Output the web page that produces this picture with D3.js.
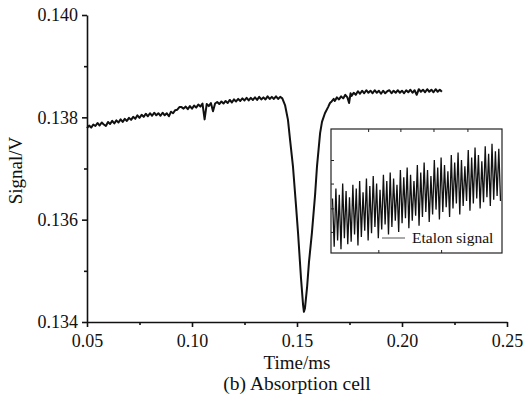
<!DOCTYPE html>
<html>
<head>
<meta charset="utf-8">
<script src="https://cdn.jsdelivr.net/npm/d3@7"></script>
<style>
  body { margin: 0; background: #fff; }
  svg { display: block; }
</style>
</head>
<body>
<div id="wrapper"></div>
<script>
// absorption cell signal, [time in ms, signal in V]
const mainCurve = [
  [0.050, 0.13779], [0.051, 0.13784], [0.052, 0.13780], [0.053, 0.13786], [0.054, 0.13783],
  [0.055, 0.13789], [0.056, 0.13784], [0.057, 0.13790], [0.058, 0.13786], [0.059, 0.13783],
  [0.060, 0.13791], [0.061, 0.13787], [0.062, 0.13793], [0.063, 0.13788], [0.064, 0.13794],
  [0.065, 0.13790], [0.066, 0.13796], [0.067, 0.13791], [0.068, 0.13797], [0.069, 0.13793],
  [0.070, 0.13799], [0.071, 0.13795], [0.072, 0.13801], [0.073, 0.13797], [0.074, 0.13804],
  [0.075, 0.13799], [0.076, 0.13805], [0.077, 0.13801], [0.078, 0.13807], [0.079, 0.13802],
  [0.080, 0.13808], [0.081, 0.13803], [0.082, 0.13809], [0.083, 0.13804], [0.084, 0.13808],
  [0.085, 0.13803], [0.086, 0.13809], [0.087, 0.13804], [0.088, 0.13808], [0.089, 0.13802],
  [0.090, 0.13811], [0.091, 0.13808], [0.092, 0.13814], [0.093, 0.13815], [0.094, 0.13820],
  [0.095, 0.13820], [0.096, 0.13817], [0.097, 0.13821], [0.098, 0.13816], [0.099, 0.13822],
  [0.100, 0.13817], [0.101, 0.13823], [0.102, 0.13819], [0.103, 0.13825], [0.104, 0.13821],
  [0.105, 0.13827], [0.106, 0.13796], [0.107, 0.13826], [0.108, 0.13822], [0.109, 0.13828],
  [0.110, 0.13812], [0.111, 0.13827], [0.112, 0.13830], [0.113, 0.13826], [0.114, 0.13831],
  [0.115, 0.13827], [0.116, 0.13832], [0.117, 0.13828], [0.118, 0.13834], [0.119, 0.13829],
  [0.120, 0.13835], [0.121, 0.13831], [0.122, 0.13836], [0.123, 0.13832], [0.124, 0.13837],
  [0.125, 0.13833], [0.126, 0.13838], [0.127, 0.13833], [0.128, 0.13838], [0.129, 0.13834],
  [0.130, 0.13839], [0.131, 0.13834], [0.132, 0.13840], [0.133, 0.13835], [0.134, 0.13839],
  [0.135, 0.13835], [0.136, 0.13841], [0.137, 0.13836], [0.138, 0.13840], [0.139, 0.13836],
  [0.140, 0.13841], [0.141, 0.13836], [0.142, 0.13840], [0.143, 0.13837],
  // the absorption dip
  [0.1443, 0.13824], [0.1457, 0.13795], [0.1467, 0.13756], [0.1481, 0.13703], [0.1495, 0.13629],
  [0.1505, 0.13574], [0.1519, 0.13486], [0.1529, 0.13433], [0.1533, 0.13420], [0.1538, 0.13427],
  [0.1548, 0.13468], [0.1557, 0.13517], [0.1571, 0.13574], [0.1586, 0.13648], [0.1595, 0.13703],
  [0.1610, 0.13769], [0.1619, 0.13791], [0.1633, 0.13808], [0.1648, 0.13820], [0.1657, 0.13828],
  // recovery
  [0.1665, 0.13831], [0.1675, 0.13836], [0.168, 0.13832], [0.169, 0.13839], [0.170, 0.13835],
  [0.171, 0.13841], [0.172, 0.13837], [0.173, 0.13844], [0.174, 0.13839], [0.1748, 0.13828],
  [0.1755, 0.13847], [0.176, 0.13842], [0.177, 0.13848], [0.178, 0.13844], [0.179, 0.13851],
  [0.180, 0.13846], [0.181, 0.13852], [0.182, 0.13847], [0.183, 0.13853], [0.184, 0.13848],
  [0.185, 0.13852], [0.186, 0.13847], [0.187, 0.13853], [0.188, 0.13848], [0.189, 0.13852],
  [0.190, 0.13846], [0.191, 0.13852], [0.192, 0.13847], [0.193, 0.13851], [0.194, 0.13853],
  [0.195, 0.13847], [0.196, 0.13852], [0.197, 0.13848], [0.198, 0.13853], [0.199, 0.13848],
  [0.200, 0.13852], [0.201, 0.13847], [0.202, 0.13853], [0.203, 0.13849], [0.204, 0.13854],
  [0.205, 0.13848], [0.206, 0.13853], [0.207, 0.13844], [0.208, 0.13855], [0.209, 0.13850],
  [0.210, 0.13854], [0.211, 0.13849], [0.212, 0.13855], [0.213, 0.13850], [0.214, 0.13854],
  [0.215, 0.13849], [0.216, 0.13855], [0.217, 0.13850], [0.218, 0.13854], [0.219, 0.13850]
];

// etalon signal in the inset, alternating peak / trough (arbitrary units 0-100)
const etalonSignal = [
  44, 5, 52, 10, 47, 3, 56, 12, 50, 7, 45, 9, 55, 15, 52, 6, 58, 13, 49, 18,
  60, 10, 54, 16, 62, 21, 56, 12, 51, 19, 63, 23, 58, 15, 65, 21, 60, 26, 55, 17,
  67, 24, 61, 28, 69, 20, 63, 26, 58, 30, 71, 22, 65, 29, 73, 33, 67, 25, 62, 31,
  75, 35, 69, 27, 77, 33, 71, 37, 66, 29, 79, 36, 73, 40, 81, 31, 75, 38, 70, 42,
  83, 34, 77, 40, 85, 44, 79, 36, 74, 41, 86, 45, 80, 38, 88, 43, 82, 46, 84, 42
];

const xMajorTicks = [0.05, 0.10, 0.15, 0.20, 0.25];
const xMinorTicks = [0.075, 0.125, 0.175, 0.225];
const yMajorTicks = [0.134, 0.136, 0.138, 0.140];
const yMinorTicks = [0.135, 0.137, 0.139];
const insetLeftTicks = [17, 36, 56, 75];
const insetTopTicks = [21, 40, 59.5, 79.5];
const insetBottomTicks = [27, 64];

const xLabel = "Time/ms";
const yLabel = "Signal/V";
const caption = "(b) Absorption cell";
const legendLabel = "Etalon signal";

const serif = "'Liberation Serif', 'Times New Roman', serif";

let dimensions = {
  width: 527,
  height: 400,
  margin: { top: 15, right: 20, bottom: 78, left: 87 },
};
dimensions.boundedWidth = dimensions.width - dimensions.margin.left - dimensions.margin.right;
dimensions.boundedHeight = dimensions.height - dimensions.margin.top - dimensions.margin.bottom;

const wrapper = d3.select("#wrapper")
  .append("svg")
  .attr("width", dimensions.width)
  .attr("height", dimensions.height);

const bounds = wrapper.append("g")
  .attr("transform", `translate(${dimensions.margin.left},${dimensions.margin.top})`);

// scales
const xScale = d3.scaleLinear()
  .domain([0.05, 0.25])
  .range([0, dimensions.boundedWidth]);

const yScale = d3.scaleLinear()
  .domain([0.134, 0.140])
  .range([dimensions.boundedHeight, 0]);

// main trace
const lineGenerator = d3.line()
  .x(d => xScale(d[0]))
  .y(d => yScale(d[1]));

bounds.append("path")
  .datum(mainCurve)
  .attr("d", lineGenerator)
  .attr("fill", "none")
  .attr("stroke", "#111")
  .attr("stroke-width", 2)
  .attr("stroke-linejoin", "round");

// inset with etalon signal
const inset = { left: 244, top: 114, width: 171, height: 124 };

const insetG = bounds.append("g")
  .attr("transform", `translate(${inset.left},${inset.top})`);

const insetX = d3.scaleLinear()
  .domain([0, etalonSignal.length - 1])
  .range([1.5, inset.width - 1.5]);

const insetY = d3.scaleLinear()
  .domain([0, 100])
  .range([inset.height, 0]);

insetG.append("rect")
  .attr("width", inset.width)
  .attr("height", inset.height)
  .attr("fill", "#fff");

insetG.append("path")
  .datum(etalonSignal)
  .attr("d", d3.line().x((d, i) => insetX(i)).y(d => insetY(d)))
  .attr("fill", "none")
  .attr("stroke", "#111")
  .attr("stroke-width", 1.3);

// inset inward ticks
const insetTickStyle = g => {
  g.select(".domain").remove();
  g.selectAll("line").attr("stroke", "#222").attr("stroke-width", 1);
};
insetG.append("g")
  .call(d3.axisLeft(insetY).tickValues(insetLeftTicks).tickSize(-3).tickFormat(""))
  .call(insetTickStyle);
insetG.append("g")
  .call(d3.axisTop(insetX).tickValues(insetTopTicks).tickSize(-3).tickFormat(""))
  .call(insetTickStyle);
insetG.append("g")
  .attr("transform", `translate(0,${inset.height})`)
  .call(d3.axisBottom(insetX).tickValues(insetBottomTicks).tickSize(-3).tickFormat(""))
  .call(insetTickStyle);

insetG.append("rect")
  .attr("width", inset.width)
  .attr("height", inset.height)
  .attr("fill", "none")
  .attr("stroke", "#222")
  .attr("stroke-width", 1.2);

// legend
insetG.append("line")
  .attr("x1", 51).attr("x2", 74)
  .attr("y1", 109).attr("y2", 109)
  .attr("stroke", "#555")
  .attr("stroke-width", 1);

insetG.append("text")
  .attr("x", 81)
  .attr("y", 114)
  .attr("font-family", serif)
  .attr("font-size", 15.5)
  .attr("fill", "#111")
  .text(legendLabel);

// axes
const styleAxis = g => {
  g.attr("font-family", serif).attr("font-size", 18);
  g.select(".domain").attr("stroke", "#111").attr("stroke-width", 1.6);
  g.selectAll(".tick line").attr("stroke", "#111").attr("stroke-width", 1.6);
  g.selectAll(".tick text").attr("fill", "#111");
};

const xAxis = bounds.append("g")
  .attr("transform", `translate(0,${dimensions.boundedHeight})`)
  .call(d3.axisBottom(xScale).tickValues(xMajorTicks).tickSize(5).tickSizeOuter(0)
    .tickPadding(7).tickFormat(d3.format(".2f")))
  .call(styleAxis);

bounds.append("g")
  .attr("transform", `translate(0,${dimensions.boundedHeight})`)
  .call(d3.axisBottom(xScale).tickValues(xMinorTicks).tickSize(3).tickFormat(""))
  .call(styleAxis)
  .call(g => g.select(".domain").remove());

const yAxis = bounds.append("g")
  .call(d3.axisLeft(yScale).tickValues(yMajorTicks).tickSize(5).tickSizeOuter(0)
    .tickPadding(4).tickFormat(d3.format(".3f")))
  .call(styleAxis);

bounds.append("g")
  .call(d3.axisLeft(yScale).tickValues(yMinorTicks).tickSize(3).tickFormat(""))
  .call(styleAxis)
  .call(g => g.select(".domain").remove());

// labels
bounds.append("text")
  .attr("x", dimensions.boundedWidth / 2)
  .attr("y", dimensions.boundedHeight + 47)
  .attr("text-anchor", "middle")
  .attr("font-family", serif)
  .attr("font-size", 19)
  .attr("fill", "#111")
  .text(xLabel);

bounds.append("text")
  .attr("x", dimensions.boundedWidth / 2)
  .attr("y", dimensions.boundedHeight + 68)
  .attr("text-anchor", "middle")
  .attr("font-family", serif)
  .attr("font-size", 19.5)
  .attr("fill", "#111")
  .text(caption);

bounds.append("text")
  .attr("transform", `translate(${-dimensions.margin.left + 22},${dimensions.boundedHeight / 2 + 2}) rotate(-90)`)
  .attr("text-anchor", "middle")
  .attr("font-family", serif)
  .attr("font-size", 19)
  .attr("fill", "#111")
  .text(yLabel);
</script>
</body>
</html>
